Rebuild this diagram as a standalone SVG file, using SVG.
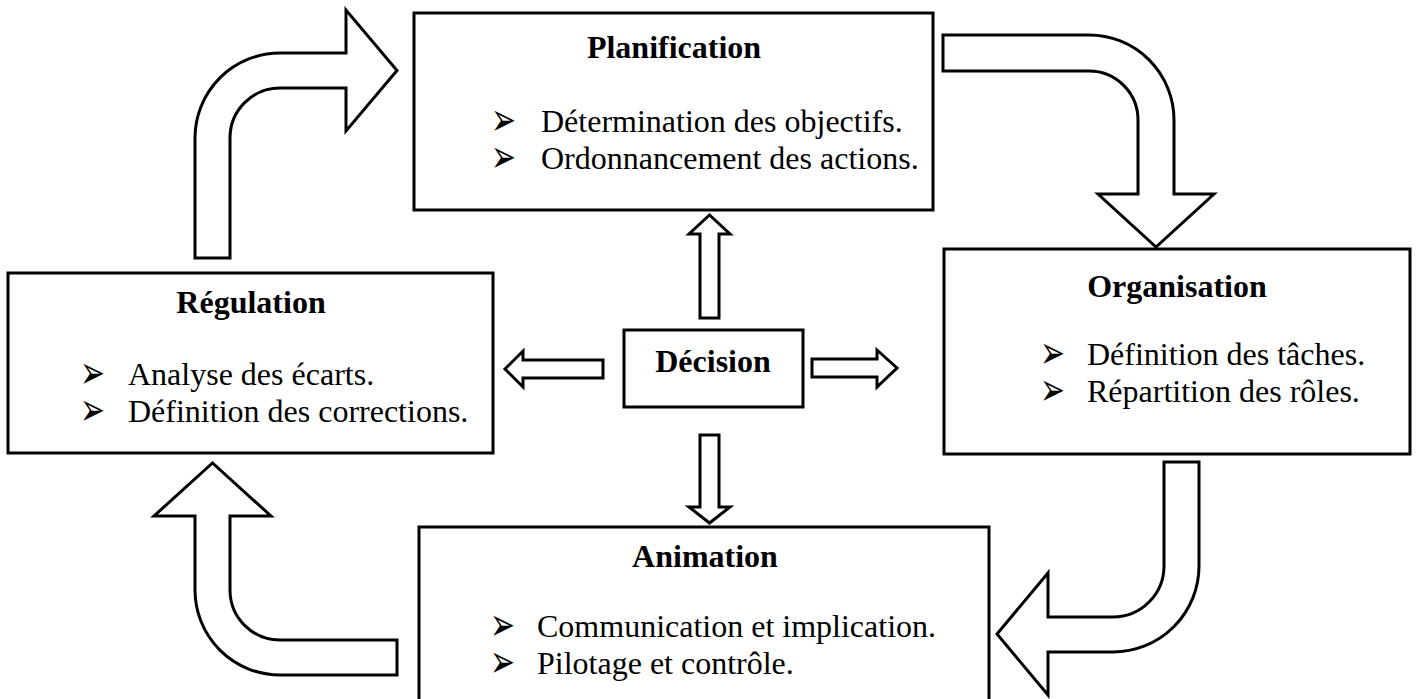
<svg xmlns="http://www.w3.org/2000/svg" xmlns:xlink="http://www.w3.org/1999/xlink" width="1416" height="699" viewBox="0 0 1416 699">
  <style>
    .box { fill: #ffffff; stroke: #000000; stroke-width: 3; }
    .arrow { fill: #ffffff; stroke: #000000; stroke-width: 3; stroke-linejoin: miter; }
    .title { font-family: "Liberation Serif", "Times New Roman", serif; font-size: 32px; font-weight: bold; fill: #000000; text-anchor: middle; }
    .item { font-family: "Liberation Serif", "Times New Roman", serif; font-size: 32px; fill: #000000; }
    .bullet { font-family: "DejaVu Sans", sans-serif; font-size: 26px; fill: #000000; }
  </style>

  <defs>
    <!-- list bullet: 3D arrowhead, enlarged; placed by baseline -->
    <text id="bul" class="bullet" transform="scale(1.15,1.75)">➢</text>
  </defs>

  <!-- connectors: curved cycle arrows and the four block arrows around the centre -->
  <g id="connectors">
    <path class="arrow" d="M 195,258 L 195,138 A 85 85 0 0 1 280,53 L 346,53 L 346,10 L 397,70.5 L 346,131 L 346,88 L 280,88 A 50 50 0 0 0 230,138 L 230,258 Z"/>
    <path class="arrow" d="M 943,35 L 1089,35 A 85 85 0 0 1 1174,120 L 1174,194 L 1214,194 L 1156,247 L 1098,194 L 1138,194 L 1138,120 A 49 49 0 0 0 1089,71 L 943,71 Z"/>
    <path class="arrow" d="M 1164,462 L 1199,462 L 1199,566 A 86 86 0 0 1 1113,652 L 1048,652 L 1048,695 L 997,634 L 1048,573 L 1048,617 L 1113,617 A 51 51 0 0 0 1164,566 Z"/>
    <path class="arrow" d="M 397,640 L 397,675 L 280,675 A 85 85 0 0 1 195,590 L 195,516 L 154,516 L 212.5,463 L 271,516 L 230,516 L 230,590 A 50 50 0 0 0 280,640 Z"/>

    <path class="arrow" d="M 700,318 L 700,234 L 689,234 L 709.5,215 L 730,234 L 719,234 L 719,318 Z"/>
    <path class="arrow" d="M 700,435 L 719,435 L 719,507 L 730,507 L 709.5,523 L 689,507 L 700,507 Z"/>
    <path class="arrow" d="M 812,359 L 877,359 L 877,350 L 897,368 L 877,387 L 877,377 L 812,377 Z"/>
    <path class="arrow" d="M 603,360 L 523,360 L 523,351 L 505,369 L 523,387 L 523,378 L 603,378 Z"/>
  </g>

  <g id="planification">
    <rect class="box" x="414" y="13" width="519" height="197"/>
    <text class="title" x="674" y="58">Planification</text>
    <use xlink:href="#bul" href="#bul" transform="translate(491,135)"/>
    <text class="item" x="541" y="132">Détermination des objectifs.</text>
    <use xlink:href="#bul" href="#bul" transform="translate(491,172)"/>
    <text class="item" x="541" y="169">Ordonnancement des actions.</text>
  </g>

  <g id="organisation">
    <rect class="box" x="944" y="249" width="466" height="205"/>
    <text class="title" x="1177" y="297">Organisation</text>
    <use xlink:href="#bul" href="#bul" transform="translate(1040,368)"/>
    <text class="item" x="1087" y="365">Définition des tâches.</text>
    <use xlink:href="#bul" href="#bul" transform="translate(1040,405)"/>
    <text class="item" x="1087" y="402">Répartition des rôles.</text>
  </g>

  <g id="regulation">
    <rect class="box" x="8" y="273" width="485" height="180"/>
    <text class="title" x="251" y="313">Régulation</text>
    <use xlink:href="#bul" href="#bul" transform="translate(80,388)"/>
    <text class="item" x="128" y="385">Analyse des écarts.</text>
    <use xlink:href="#bul" href="#bul" transform="translate(80,425)"/>
    <text class="item" x="128" y="422">Définition des corrections.</text>
  </g>

  <g id="decision">
    <rect class="box" x="624" y="330" width="179" height="77"/>
    <text class="title" x="713" y="372">Décision</text>
  </g>

  <g id="animation">
    <rect class="box" x="419" y="527" width="570" height="190"/>
    <text class="title" x="705" y="567">Animation</text>
    <use xlink:href="#bul" href="#bul" transform="translate(490,640)"/>
    <text class="item" x="537" y="637">Communication et implication.</text>
    <use xlink:href="#bul" href="#bul" transform="translate(490,677)"/>
    <text class="item" x="537" y="674">Pilotage et contrôle.</text>
  </g>
</svg>
